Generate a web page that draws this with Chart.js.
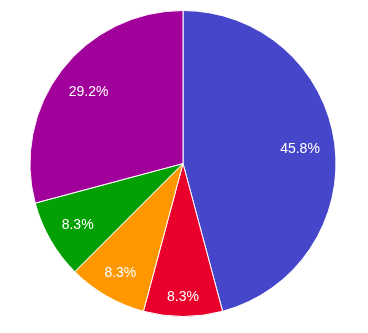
<!DOCTYPE html>
<html>
<head>
<meta charset="utf-8">
<script src="https://cdn.jsdelivr.net/npm/chart.js@4/dist/chart.umd.min.js"></script>
<style>
  html, body { margin: 0; padding: 0; background: #fff; }
  #wrap { width: 368px; height: 333px; }
</style>
</head>
<body>
<div id="wrap"><canvas id="chart"></canvas></div>
<script>
'use strict';

/*********** DATA ***********/
var labels = ['A', 'B', 'C', 'D', 'E'];
var values = [11, 2, 2, 2, 7];
var colors = ['#4646CB', '#E9002B', '#FF9800', '#02A002', '#A1019A'];

/*********** PLUGIN ***********/
// draws the percentage inside each slice, pushed out until the text box
// reaches about 90% of the radius
var sliceLabels = {
  id: 'sliceLabels',
  afterDatasetsDraw: function (chart) {
    var ctx = chart.ctx;
    var meta = chart.getDatasetMeta(0);
    var total = values.reduce(function (a, b) { return a + b; }, 0);
    ctx.save();
    ctx.fillStyle = '#ffffff';
    ctx.font = '14px "Liberation Sans", Arial, sans-serif';
    ctx.textAlign = 'center';
    ctx.textBaseline = 'middle';
    for (var i = 0; i < meta.data.length; i++) {
      var arc = meta.data[i];
      var text = (values[i] / total * 100).toFixed(1) + '%';
      var w = ctx.measureText(text).width;
      var h = 12;
      var mid = (arc.startAngle + arc.endAngle) / 2;
      var c = Math.cos(mid), s = Math.sin(mid);
      var r = arc.outerRadius * 0.905 - (Math.abs(c) * w / 2 + Math.abs(s) * h / 2);
      ctx.fillText(text, arc.x + c * r, arc.y + s * r + 1);
    }
    ctx.restore();
  }
};

/*********** CHART ***********/
new Chart(document.getElementById('chart'), {
  type: 'pie',
  data: {
    labels: labels,
    datasets: [{
      data: values,
      backgroundColor: colors,
      borderColor: '#ffffff',
      borderWidth: 1
    }]
  },
  options: {
    responsive: true,
    maintainAspectRatio: false,
    animation: false,
    layout: { padding: { top: 10, bottom: 16, left: 0, right: 2 } },
    plugins: {
      legend: { display: false },
      tooltip: { enabled: false }
    }
  },
  plugins: [sliceLabels]
});
</script>
</body>
</html>
